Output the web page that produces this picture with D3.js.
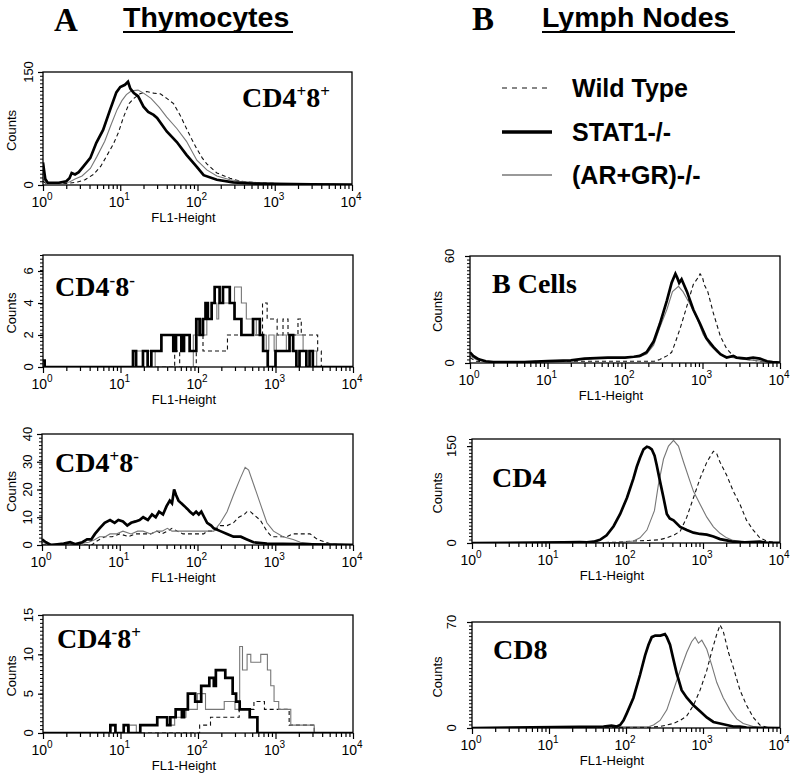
<!DOCTYPE html>
<html><head><meta charset="utf-8">
<script src="https://cdn.jsdelivr.net/npm/d3@7"></script>
<style>body{margin:0;background:#fff}svg{display:block}</style>
</head><body>
<svg id="fig" width="792" height="774"></svg>
<script>
// ---------------- DATA ----------------
const seriesNames = ["Wild Type", "STAT1-/-", "(AR+GR)-/-"];
const xTickValues = [1, 10, 100, 1000, 10000];
const xTickExponents = ["0", "1", "2", "3", "4"];
const xAxisTitle = "FL1-Height";
const yAxisTitle = "Counts";
const sectionLetters = ["A", "B"];
const sectionTitles = ["Thymocytes", "Lymph Nodes"];

// panel labels: [main, superscript, main, superscript]
const panelLabels = {
  a1: ["CD4", "+", "8", "+"],
  a2: ["CD4", "-", "8", "-"],
  a3: ["CD4", "+", "8", "-"],
  a4: ["CD4", "-", "8", "+"],
  b1: ["B Cells"],
  b2: ["CD4"],
  b3: ["CD8"]
};
const yMaxima = { a1: 150, a2: 7, a3: 40, a4: 15, b1: 60, b2: 161, b3: 70 };
const yTickLabels = {
  a1: [0, 150], a2: [0, 2, 4, 6], a3: [0, 10, 20, 30, 40], a4: [0, 5, 10, 15],
  b1: [0, 60], b2: [0, 150], b3: [0, 70]
};

// histograms: [FL1 value, counts]
// A1 CD4+8+
const a1Wt = [[1,5],[1.1,2],[2,2],[2.8,4],[3.5,7],[4.5,14],[5.6,25],[6.8,40],[8.2,55],[9.5,70],[11,90],[13,108],[15,115],[18,121],[22,124],[27,122],[33,121],[40,115],[49,108],[60,92],[72,75],[85,60],[98,48],[115,36],[132,28],[178,16],[263,9],[355,5],[600,3],[1500,1.5],[4000,1],[10000,0.5]];
const a1Ko = [[1,30],[1.03,20],[1.07,8],[1.15,3],[1.6,3],[2.0,5],[2.2,9],[2.35,16],[2.6,14],[2.9,17],[3.3,24],[4.1,36],[4.9,56],[6.0,73],[7.4,100],[8.9,123],[10,130],[11.5,133],[12.6,137],[13.5,128],[15,122],[17,118],[20,104],[23,97],[27,93],[30,89],[40,71],[54,57],[72,40],[98,24],[120,13],[178,7],[290,3.5],[500,2],[1000,1.5],[3000,1],[10000,0.5]];
const a1Argr = [[1,8],[1.1,3],[1.6,2],[2.2,4],[2.6,8],[3.2,12],[4.1,22],[5.0,38],[6.3,58],[7.6,80],[9.1,100],[10.5,112],[12,120],[14,125],[17,126],[20,122],[25,115],[32,103],[40,90],[54,75],[72,58],[98,33],[132,20],[178,12],[263,7],[355,5],[700,2.5],[1500,1.5],[10000,0.5]];

// A2 CD4-8-
const a2Wt = [[1,0],[50,1],[58,0],[95,2],[116,1],[240,2],[680,4],[780,3],[1050,2],[1250,3],[1450,2],[1950,3],[2150,2],[3500,1],[3900,0],[10000,0]];
const a2Ko = [[1,0.4],[1.05,0],[14.5,1],[15.9,0],[19.5,1],[22.4,0],[25,1],[33.7,2],[45,2],[48,1],[52,2],[61,1],[66,2],[78,1],[95,3],[105,2],[116,3],[125,4],[134,3],[150,4],[164,5],[190,4],[210,5],[257,4],[296,3],[363,2],[513,3],[628,2],[692,1],[794,0],[1000,1],[1517,2],[1690,1],[1860,0],[2040,1],[2500,0],[2750,1],[3030,0],[10000,0]];
const a2Argr = [[1,0],[16,1],[28,0],[87,2],[100,3],[112,2],[130,3],[150,4],[175,3],[185,4],[296,5],[363,4],[420,3],[565,2],[760,1],[820,2],[960,1],[1023,2],[1380,1],[1690,2],[2270,1],[3400,0],[10000,0]];

// A3 CD4+8-
const a3Wt = [[1,0],[4.4,0],[4.8,1],[5.5,2],[6.5,3],[8,3],[10,4],[13,3],[16,4],[20,4],[25,4],[30,5],[35,4],[41,5],[47,6],[55,5],[65,4],[80,4],[100,4],[120,4],[133,5],[162,5],[197,7],[240,7],[290,8],[340,10],[400,11],[433,12],[480,12],[525,11],[640,9],[780,5],[900,3],[1100,3],[1400,3],[1700,4],[2100,4],[2800,4],[3500,2],[4500,1],[5000,0.5],[10000,0]];
const a3Ko = [[1,2],[1.12,1],[1.3,0],[1.9,0.5],[2.3,1],[2.7,0.3],[3.3,1],[3.8,2],[4.3,2],[4.8,4],[5.5,6],[6.4,8],[7.5,9],[8.6,8],[9.6,9],[11,8.5],[12.5,7],[14,8],[16,8.5],[18,9],[20,10],[23,9],[26,11],[29,10],[32,12],[36,11],[40,14],[44,16],[47,15],[50,20],[53,18],[57,16],[62,15],[68,14],[74,13],[80,12],[88,11],[96,12],[104,11],[112,12],[122,10],[133,8],[150,7],[162,6],[197,5],[240,4],[290,3],[360,3],[433,2],[525,1],[780,0.5],[2000,0.3],[10000,0]];
const a3Argr = [[1,1],[1.2,0.3],[2,0.3],[3,0.5],[4,1],[4.8,2],[5.5,3],[6.5,3],[7.5,4],[9,4],[11,5],[14,4],[17,5],[20,5],[25,4],[30,5],[35,5],[41,6],[47,5],[55,5],[65,5],[80,5],[100,5],[120,5],[140,5],[162,5],[197,8],[240,12],[290,18],[355,24],[410,28],[455,27],[525,22],[640,15],[780,8],[950,5],[1260,3],[1700,2],[2100,1],[3000,0.5],[10000,0.3]];

// A4 CD4-8+
const a4Wt = [[1,0],[105,1],[145,2],[230,2],[340,3],[527,4],[720,3],[1000,3],[1500,1],[2500,1],[3160,0],[10000,0]];
const a4Ko = [[1,0],[7.4,1],[8.6,0],[11,1],[12.6,0],[18,1],[29.8,2],[40,1],[44,2],[51.5,3],[62,2],[66,3],[74,5],[92,4],[110,6],[140,7],[160,6],[170,8],[225,7],[280,5],[310,4],[345,3],[465,2],[584,0],[10000,0]];
const a4Argr = [[1,0],[7.4,1],[8.6,0],[13,1],[16,0],[18,1],[30,2],[40,1],[50,2],[70,3],[98,5],[125,3],[218,4],[300,3],[345,11],[375,8],[430,10],[480,9],[645,10],[786,8],[868,6],[958,4],[1100,3],[1575,1],[3160,0],[10000,0]];

// B1 B cells
const b1Wt = [[1,3],[1.2,1],[2,0.5],[10,1],[30,1],[100,1],[190,1],[240,1],[282,2],[347,4],[400,6],[450,12],[520,20],[630,32],[760,44],[880,48],[930,50],[1000,48],[1050,44],[1170,40],[1380,28],[1700,15],[2050,8],[2500,4],[3700,2],[5500,1],[10000,0.3]];
const b1Ko = [[1,6],[1.1,4],[1.3,2],[1.6,1],[2,0.5],[5,0.5],[10,1],[20,1.5],[30,2.5],[60,3],[100,3],[130,3.5],[155,4],[190,6],[234,12],[282,22],[347,35],[400,45],[447,50],[470,48],[500,45],[537,47],[630,40],[760,30],[930,22],[1120,14],[1380,9],[1700,5],[2050,3],[2500,4],[2750,3],[3700,2.5],[4500,3],[5500,2.5],[6800,1],[8000,0.5],[10000,0.2]];
const b1Argr = [[1,4],[1.2,2],[1.6,1],[2,0.5],[8,1],[20,1.5],[40,2.5],[100,3],[155,3.5],[190,5],[234,10],[282,20],[347,30],[410,40],[490,43],[560,40],[690,33],[850,25],[1020,16],[1250,10],[1550,6],[1870,4],[2500,3],[3500,2],[6000,1],[10000,0.3]];

// B2 CD4
const b2Wt = [[1,0],[30,0.5],[70,1],[125,3],[200,4],[270,5],[339,8],[414,12],[505,18],[616,40],[680,55],[752,70],[916,100],[1120,125],[1365,142],[1510,138],[1665,125],[2030,105],[2475,80],[3020,60],[3680,35],[4490,20],[5470,8],[6670,3],[8500,1],[10000,0.3]];
const b2Ko = [[1,0],[15.5,1],[25,1.5],[31,1],[38,2],[46,5],[56,12],[69,26],[84,45],[103,70],[125,100],[138,118],[152,132],[169,145],[187,149],[200,148],[216,145],[235,135],[251,120],[277,95],[307,70],[339,45],[370,38],[414,35],[505,25],[616,20],[752,16],[916,14],[1120,13],[1365,10],[1665,6],[2030,4],[2475,2],[3500,1],[5470,2],[6670,0.5],[10000,0.2]];
const b2Argr = [[1,0],[80,1],[103,2],[125,3],[152,8],[187,20],[234,50],[263,90],[307,130],[356,150],[414,159],[480,150],[560,125],[680,95],[752,80],[916,60],[1120,40],[1365,25],[1665,15],[2030,8],[2475,4],[3500,1.5],[6000,0.5],[10000,0.2]];

// B3 CD8
const b3Wt = [[1,0],[200,0.5],[277,1],[339,2],[414,3],[505,5],[616,8],[752,15],[916,25],[1120,38],[1290,50],[1510,62],[1665,68],[1830,64],[2140,50],[2475,40],[3020,25],[3680,15],[4490,7],[5470,2],[6670,0.5],[10000,0]];
const b3Ko = [[1,0],[51,1],[65,1.5],[76,1],[84,2],[93,5],[103,10],[125,20],[152,35],[177,48],[196,55],[216,60],[240,61],[280,61],[320,62],[339,60],[373,55],[414,45],[456,36],[528,25],[616,20],[752,15],[916,11],[1120,7],[1365,4],[1665,3],[2030,2],[2475,1],[3020,1],[3680,0.3],[10000,0]];
const b3Argr = [[1,0],[200,1],[228,2],[277,5],[339,12],[414,25],[505,38],[616,50],[711,57],[790,60],[873,56],[965,58],[1120,52],[1290,42],[1510,30],[1830,20],[2240,12],[2740,6],[3330,3],[4490,1],[5470,0.3],[10000,0]];

const panelSeries = {
  a1: [a1Wt, a1Argr, a1Ko], a2: [a2Wt, a2Argr, a2Ko], a3: [a3Wt, a3Argr, a3Ko], a4: [a4Wt, a4Argr, a4Ko],
  b1: [b1Wt, b1Argr, b1Ko], b2: [b2Wt, b2Argr, b2Ko], b3: [b3Wt, b3Argr, b3Ko]
};
const panelSeriesKind = ["wt", "argr", "ko"];

// ---------------- LAYOUT ----------------
const layout = {
  a1: { x0: 43, x1: 352, y0: 72, y1: 185, step: false, lx: 242, ly: 107, col: 0 },
  a2: { x0: 43, x1: 353, y0: 255, y1: 367, step: true, lx: 55, ly: 296, col: 0 },
  a3: { x0: 42, x1: 353, y0: 434, y1: 545, step: false, lx: 55, ly: 472, col: 0 },
  a4: { x0: 43, x1: 353, y0: 615, y1: 733, step: true, lx: 57, ly: 648, col: 0 },
  b1: { x0: 470, x1: 780, y0: 256, y1: 363, step: false, lx: 492, ly: 293, col: 1 },
  b2: { x0: 472, x1: 780, y0: 439, y1: 543, step: false, lx: 492, ly: 487, col: 1 },
  b3: { x0: 472, x1: 780, y0: 622, y1: 728, step: false, lx: 493, ly: 659, col: 1 }
};
const styles = {
  wt: { stroke: "#111", width: 1.1, dash: "4,3" },
  argr: { stroke: "#777", width: 1.1, dash: null },
  ko: { stroke: "#000", width: 2.7, dash: null }
};
const sans = "'Liberation Sans', Arial, Helvetica, sans-serif";
const serif = "'Liberation Serif', 'Times New Roman', serif";

const svg = d3.select("#fig");
svg.append("rect").attr("width", 792).attr("height", 774).attr("fill", "#fff");

// section headings
const headPos = [{ lx: 54, ly: 31, tx: 123, ty: 27, ux1: 293 }, { lx: 472, ly: 30, tx: 542, ty: 27, ux1: 735 }];
sectionLetters.forEach((s, i) => {
  const h = headPos[i];
  svg.append("text").attr("x", h.lx).attr("y", h.ly).text(s)
    .attr("font-family", serif).attr("font-weight", "bold").attr("font-size", 33);
  svg.append("text").attr("x", h.tx).attr("y", h.ty).text(sectionTitles[i])
    .attr("font-family", sans).attr("font-weight", "bold").attr("font-size", 28.5);
  svg.append("line").attr("x1", h.tx).attr("x2", h.ux1).attr("y1", 32).attr("y2", 32)
    .attr("stroke", "#000").attr("stroke-width", 2);
});

// legend
const legendOrder = ["wt", "ko", "argr"];
const legendY = [88, 132, 175];
seriesNames.forEach((name, i) => {
  const st = styles[legendOrder[i]];
  svg.append("line").attr("x1", 502).attr("x2", 552).attr("y1", legendY[i]).attr("y2", legendY[i])
    .attr("stroke", st.stroke).attr("stroke-width", i === 1 ? 3.6 : (i === 2 ? 1.6 : 1.2))
    .attr("stroke-dasharray", st.dash ? "5,5" : null);
  svg.append("text").attr("x", 572).attr("y", legendY[i] + 9).text(name)
    .attr("font-family", sans).attr("font-weight", "bold").attr("font-size", 25);
});

Object.keys(layout).forEach(key => {
  const L = layout[key];
  const x = d3.scaleLog().domain([1, 10000]).range([L.x0, L.x1]);
  const y = d3.scaleLinear().domain([0, yMaxima[key]]).range([L.y1, L.y0]);
  const g = svg.append("g");

  const clipId = "clip-" + key;
  svg.append("clipPath").attr("id", clipId).append("rect")
    .attr("x", L.x0).attr("y", L.y0 - 2).attr("width", L.x1 - L.x0).attr("height", L.y1 - L.y0 + 2);

  const line = d3.line().x(d => x(d[0])).y(d => y(d[1]))
    .curve(L.step ? d3.curveStepAfter : d3.curveLinear);

  const lines = g.append("g").attr("clip-path", `url(#${clipId})`);
  panelSeries[key].forEach((data, i) => {
    const st = styles[panelSeriesKind[i]];
    lines.append("path").datum(data).attr("d", line)
      .attr("fill", "none").attr("stroke", st.stroke).attr("stroke-width", st.width)
      .attr("stroke-dasharray", st.dash).attr("stroke-linejoin", "miter");
  });

  // frame
  g.append("rect").attr("x", L.x0).attr("y", L.y0).attr("width", L.x1 - L.x0).attr("height", L.y1 - L.y0)
    .attr("fill", "none").attr("stroke", "#000").attr("stroke-width", 1.3);

  // x axis ticks
  const minor = [];
  for (let d = 1; d < 10000; d *= 10) for (let k = 2; k <= 9; k++) minor.push(d * k);
  const xMinor = d3.axisBottom(x).tickValues(minor).tickSize(4).tickFormat("");
  const xMajor = d3.axisBottom(x).tickValues(xTickValues).tickSize(6).tickFormat("");
  [xMinor, xMajor].forEach(ax => {
    const a = g.append("g").attr("transform", `translate(0,${L.y1})`).call(ax);
    a.select(".domain").remove();
    a.selectAll("line").attr("stroke", "#000").attr("stroke-width", 1.2);
  });
  xTickValues.forEach((v, i) => {
    const t = g.append("text").attr("x", x(v) - 1).attr("y", L.y1 + 22)
      .attr("text-anchor", "middle").attr("font-family", sans).attr("font-size", 14);
    t.append("tspan").text("10");
    t.append("tspan").text(xTickExponents[i]).attr("font-size", 10).attr("dy", -7);
  });
  g.append("text").attr("x", (L.x0 + L.x1) / 2 - 14).attr("y", L.y1 + 37)
    .attr("text-anchor", "middle").attr("font-family", sans).attr("font-size", 13).text(xAxisTitle);

  // y axis ticks
  const ymax = yMaxima[key];
  const yMinor = d3.range(0, ymax + 1e-9, ymax / 30);
  const ya = g.append("g").attr("transform", `translate(${L.x0},0)`)
    .call(d3.axisLeft(y).tickValues(yMinor).tickSize(3).tickFormat(""));
  ya.select(".domain").remove();
  ya.selectAll("line").attr("stroke", "#000").attr("stroke-width", 1);
  const ya2 = g.append("g").attr("transform", `translate(${L.x0},0)`)
    .call(d3.axisLeft(y).tickValues(yTickLabels[key]).tickSize(5).tickFormat(""));
  ya2.select(".domain").remove();
  ya2.selectAll("line").attr("stroke", "#000").attr("stroke-width", 1.2);

  const labBase = L.col === 0 ? L.x0 - 10 : L.x0 - 16;
  yTickLabels[key].forEach(v => {
    g.append("text").attr("transform", `translate(${labBase},${y(v)}) rotate(-90)`)
      .attr("text-anchor", "middle").attr("font-family", sans).attr("font-size", 13).text(v);
  });
  const cBase = L.col === 0 ? 16 : 442;
  g.append("text").attr("transform", `translate(${cBase},${(L.y0 + L.y1) / 2 + 2}) rotate(-90)`)
    .attr("text-anchor", "middle").attr("font-family", sans).attr("font-size", 13).text(yAxisTitle);

  // panel label
  const lab = panelLabels[key];
  const t = g.append("text").attr("x", L.lx).attr("y", L.ly)
    .attr("font-family", serif).attr("font-weight", "bold").attr("font-size", 28);
  lab.forEach((s, i) => {
    if (i % 2 === 0) t.append("tspan").text(s).attr("dy", i === 0 ? 0 : 10).attr("font-size", 28);
    else t.append("tspan").text(s).attr("dy", -10).attr("font-size", 17);
  });
});
</script>
</body></html>
